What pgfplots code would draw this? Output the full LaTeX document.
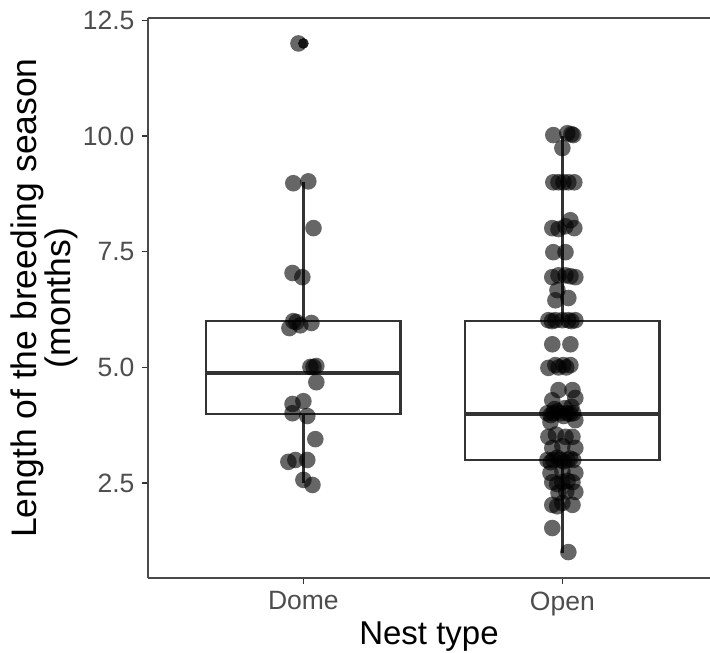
\documentclass[border=0pt]{standalone}
\usepackage{fontspec}
\setmainfont{Liberation Sans}
\usepackage{pgfplots}
\pgfplotsset{compat=1.18}
\usepgfplotslibrary{statistics}
\definecolor{boxc}{HTML}{333333}
\definecolor{axc}{HTML}{4A4A4A}
\definecolor{tickc}{HTML}{4D4D4D}
\begin{document}
\begin{tikzpicture}
\useasboundingbox (0,0) rectangle (710pt,653pt);
\begin{axis}[
  at={(148pt,75pt)}, anchor=south west,
  width=562pt, height=560pt, scale only axis,
  xmin=0.4, xmax=2.57, ymin=0.45, ymax=12.55,
  xtick={1,2}, xticklabels={Dome,Open},
  ytick={2.5,5,7.5,10,12.5}, yticklabels={2.5,5.0,7.5,10.0,12.5},
  axis x line*=bottom, axis y line*=left,
  axis line style={-, draw=axc, line width=1.2pt},
  tick align=outside, major tick length=6pt,
  every tick/.style={draw=boxc, line width=1.3pt},
  tick label style={font=\fontsize{26.5}{30}\selectfont, text=tickc},
  xticklabel style={yshift=-4pt},
  yticklabel style={xshift=-4pt},
  /pgf/number format/assume math mode=true,
  xlabel={Nest type},
  ylabel={Length of the breeding season\\(months)},
  every axis x label/.style={at={(rel axis cs:0.5,0)}, anchor=base, yshift=-67pt, font=\fontsize{33}{38}\selectfont, text=black},
  every axis y label/.style={at={(rel axis cs:0,0.5)}, xshift=-104pt, rotate=90, anchor=center, align=center, font=\fontsize{35.5}{34}\selectfont, text=black},
  boxplot/draw direction=y,
]
\draw[axc, line width=1.2pt] (rel axis cs:0,1) -- (rel axis cs:1,1);
\addplot[boxplot prepared={draw position=1, lower whisker=2.5, lower quartile=4, median=4.875, upper quartile=6, upper whisker=9, box extend=0.75, whisker extend=0},
  draw=boxc, line width=2.3pt, fill=white, boxplot/every median/.style={line width=4.3pt}] coordinates {};
\addplot[boxplot prepared={draw position=2, lower whisker=1, lower quartile=3, median=4, upper quartile=6, upper whisker=10, box extend=0.75, whisker extend=0},
  draw=boxc, line width=2.3pt, fill=white, boxplot/every median/.style={line width=4.3pt}] coordinates {};
% outlier
\addplot[only marks, mark=*, mark size=5pt, draw=none, mark options={draw=none, fill=boxc}] coordinates {(1.0,12.0)};
% jittered points
\addplot[only marks, mark=*, mark size=8.3pt, draw=none, line width=0pt, mark options={draw=none, draw opacity=0, fill=black, fill opacity=0.6}] table {
x y
0.981 12.00
0.961 8.98
1.019 9.02
1.039 8.01
0.958 7.04
0.996 6.95
0.961 6.00
0.973 5.98
1.031 5.96
0.946 5.85
0.988 5.91
1.027 5.01
1.039 5.01
1.050 5.03
1.050 4.68
0.958 4.21
1.000 4.27
0.958 4.01
1.015 3.95
1.046 3.45
0.942 2.96
0.969 3.00
1.015 3.00
1.000 2.57
1.035 2.46
1.965 10.02
2.019 10.06
2.042 10.02
2.035 10.04
2.000 9.74
1.965 9.00
1.985 9.00
2.004 9.00
2.023 9.00
2.046 9.00
1.961 8.01
1.985 7.99
2.012 8.05
2.031 8.18
2.046 8.01
1.965 7.49
2.012 7.49
1.961 6.95
1.985 6.99
2.012 6.99
2.050 6.95
2.031 6.97
1.981 6.67
1.973 6.45
2.023 6.50
1.946 6.02
1.973 6.02
2.000 6.02
2.023 6.02
2.050 6.02
1.960 6.00
2.035 6.00
1.961 5.50
2.031 5.50
1.946 4.99
1.973 5.05
2.004 5.05
2.031 5.05
1.985 5.00
2.015 5.00
1.985 4.51
2.039 4.51
1.961 4.29
2.050 4.34
1.942 4.01
1.965 4.01
1.992 4.01
2.019 4.01
2.042 4.01
1.955 3.97
1.980 4.05
2.005 3.95
2.030 4.00
1.970 4.10
2.010 4.12
2.035 4.15
1.954 3.82
2.050 3.86
1.946 3.50
2.012 3.50
2.039 3.50
1.975 3.55
1.961 3.26
2.050 3.26
2.000 3.30
1.942 3.00
1.965 3.00
1.992 3.00
2.019 3.00
2.042 3.00
1.955 2.95
1.980 3.05
2.005 2.97
2.030 3.03
1.954 2.72
2.050 2.72
2.000 2.75
1.961 2.52
2.000 2.52
2.039 2.52
1.980 2.48
2.020 2.55
1.985 2.29
2.050 2.31
2.015 2.32
1.961 2.03
2.000 2.07
2.039 2.03
1.980 2.00
1.961 1.53
2.023 1.01
};
\end{axis}
\end{tikzpicture}
\end{document}
